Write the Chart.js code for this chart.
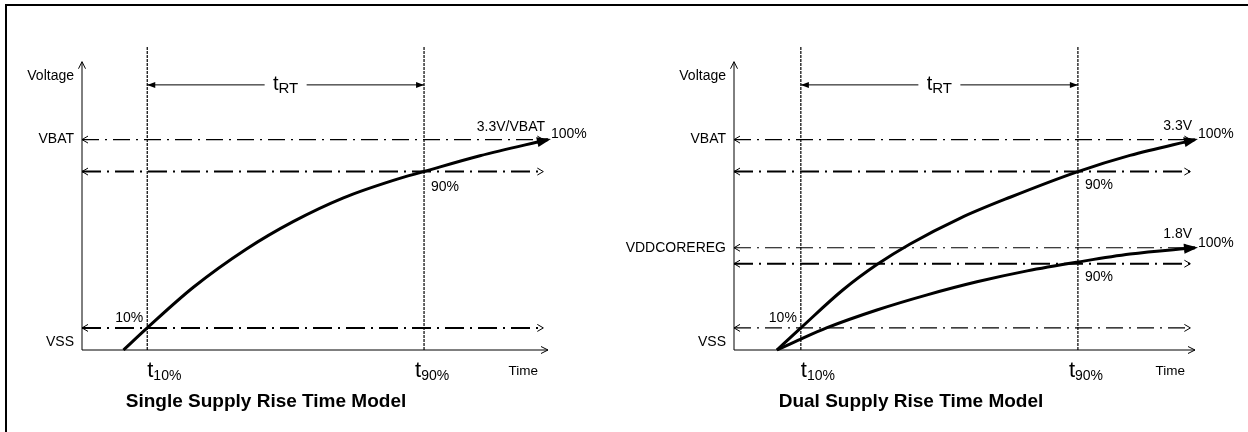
<!DOCTYPE html>
<html>
<head>
<meta charset="utf-8">
<script src="https://cdn.jsdelivr.net/npm/chart.js@4/dist/chart.umd.min.js"></script>
<style>
  body { margin: 0; background: #fff; }
  #wrap { position: relative; width: 1248px; height: 432px; overflow: hidden; }
  canvas { position: absolute; top: 0; }
  #single { left: 0; }
  #dual { left: 590px; }
  #frame { position: absolute; left: 5px; top: 4px; right: -4px; bottom: -4px;
           border-top: 2px solid #000; border-left: 2px solid #000; pointer-events: none; }
</style>
</head>
<body>
<div id="wrap">
  <canvas id="single" width="590" height="432"></canvas>
  <canvas id="dual" width="658" height="432"></canvas>
  <div id="frame"></div>
</div>
<script>
// ---- data (time in arbitrary units 0..100, level in arbitrary units, VBAT = 100) ----
const singleMarks = [14.0, 73.4];                 // t10%, t90%
const singleLevels = [100, 84.8, 10.5];           // VBAT, 90%, 10%
const singleAxisNames = ['Voltage', 'VBAT', 'VSS'];
const singleAxisY = [130, 100, 3.8];
const singleT = [8.9, 14.0, 23.9, 35.3, 45.3, 56.1, 66.8, 73.4, 85.4, 100];
const singleV = [0, 10.5, 29.8, 48.0, 61.0, 72.3, 80.6, 84.8, 92.3, 100];

const dualMarks = [14.5, 74.6];
const dualLevels = [100, 84.8, 48.6, 41.0, 10.5]; // VBAT, 90%, VDDCOREREG, 90%, VSS
const dualAxisNames = ['Voltage', 'VBAT', 'VDDCOREREG', 'VSS'];
const dualAxisY = [130, 100, 48.6, 3.8];
const dualHiT = [9.3, 14.5, 23.6, 31.0, 38.2, 49.0, 59.9, 74.6, 85.9, 100];
const dualHiV = [0, 10.5, 28.5, 40.6, 50.4, 62.6, 72.6, 84.8, 92.5, 100];
const dualLoT = [9.3, 14.5, 20.2, 31.0, 41.9, 52.7, 63.6, 74.6, 85.9, 100];
const dualLoV = [0, 5.2, 10.6, 19.0, 26.2, 32.4, 37.6, 41.8, 45.6, 48.6];

const FONT = '"Liberation Sans", Arial, sans-serif';
const thin = 1.2, thick = 2;

function pts(xs, ys) { return xs.map((x, i) => ({ x, y: ys[i] })); }

function head(ctx, x, y, ux, uy, len, half, filled) {
  const nx = -uy, ny = ux;
  const bx = x - ux * len, by = y - uy * len;
  ctx.beginPath();
  ctx.moveTo(bx + nx * half, by + ny * half);
  ctx.lineTo(x, y);
  ctx.lineTo(bx - nx * half, by - ny * half);
  if (filled) { ctx.closePath(); ctx.fill(); } else ctx.stroke();
}

function text(ctx, s, x, y, size, align, bold) {
  ctx.font = (bold ? 'bold ' : '') + size + 'px ' + FONT;
  ctx.textAlign = align;
  ctx.textBaseline = 'middle';
  ctx.fillText(s, x, y);
}

// base letter with a subscript
function subText(ctx, base, sub, x, y, bs, ss, drop) {
  ctx.textBaseline = 'middle';
  ctx.textAlign = 'left';
  ctx.font = bs + 'px ' + FONT;
  const w = ctx.measureText(base).width;
  ctx.fillText(base, x, y);
  ctx.font = ss + 'px ' + FONT;
  ctx.fillText(sub, x + w, y + drop);
}

function subWidth(ctx, base, sub, bs, ss) {
  ctx.font = bs + 'px ' + FONT;
  const w = ctx.measureText(base).width;
  ctx.font = ss + 'px ' + FONT;
  return w + ctx.measureText(sub).width;
}

const diagram = {
  id: 'diagram',
  afterDatasetsDraw(chart) {
    const o = chart.options.plugins.diagram;
    const ctx = chart.ctx;
    const X = v => chart.scales.x.getPixelForValue(v);
    const Y = v => chart.scales.y.getPixelForValue(v);
    ctx.save();
    ctx.strokeStyle = '#000';
    ctx.fillStyle = '#000';
    ctx.setLineDash([]);
    ctx.lineWidth = 1;

    // axes
    ctx.beginPath();
    ctx.moveTo(X(0), Y(0)); ctx.lineTo(X(0), Y(o.axisTop));
    ctx.moveTo(X(0), Y(0)); ctx.lineTo(X(100), Y(0));
    ctx.stroke();
    head(ctx, X(0), Y(o.axisTop), 0, -1, 7, 3.5, false);
    head(ctx, X(100), Y(0), 1, 0, 7, 3.5, false);

    // open heads on the level lines
    o.levels.forEach(v => {
      head(ctx, X(0), Y(v), -1, 0, 6, 3.5, false);
      head(ctx, X(99), Y(v), 1, 0, 6, 3.5, false);
    });

    // filled heads at the end of each curve
    chart.data.datasets.forEach((ds, i) => {
      if (!ds.curve) return;
      const d = chart.getDatasetMeta(i).data;
      const a = d[d.length - 2], b = d[d.length - 1];
      const dx = b.x - a.x, dy = b.y - a.y, L = Math.hypot(dx, dy);
      head(ctx, b.x + dx / L * 3, b.y + dy / L * 3, dx / L, dy / L, 14, 5, true);
    });

    // t_RT dimension
    const m0 = X(o.marks[0]), m1 = X(o.marks[1]), ry = Y(o.trtY);
    const cx = (m0 + m1) / 2;
    ctx.beginPath();
    ctx.moveTo(m0, ry); ctx.lineTo(cx - 21, ry);
    ctx.moveTo(cx + 21, ry); ctx.lineTo(m1, ry);
    ctx.stroke();
    head(ctx, m0, ry, -1, 0, 8, 3, true);
    head(ctx, m1, ry, 1, 0, 8, 3, true);
    const rw = subWidth(ctx, 't', 'RT', 20, 15);
    subText(ctx, 't', 'RT', cx - rw / 2, ry, 20, 15, 4);

    // axis names
    o.axisNames.forEach((s, i) => text(ctx, s, X(0) - 8, Y(o.axisY[i]), 14, 'right'));

    // percentages
    text(ctx, '10%', m0 - 4, Y(15), 14, 'right');
    o.p90.forEach(v => text(ctx, '90%', m1 + 7, Y(v), 14, 'left'));
    o.p100.forEach(v => text(ctx, '100%', X(100) + 3, Y(v), 14, 'left'));
    o.supply.forEach(([s, v]) => text(ctx, s, X(100) - 3, Y(v), 14, 'right'));

    // time axis labels
    text(ctx, 'Time', X(100) - 10, Y(0) + 21, 13.5, 'right');
    subText(ctx, 't', '10%', m0, Y(0) + 21, 22, 14, 5);
    subText(ctx, 't', '90%', m1 - 9, Y(0) + 21, 22, 14, 5);

    // panel title
    text(ctx, o.title, o.titleX, 402, 19, 'center', true);
    ctx.restore();
  }
};

function levelSet(v, w) {
  return {
    data: [{ x: 0, y: v }, { x: 99, y: v }],
    borderColor: '#000', borderWidth: w,
    borderDash: w > 1.5 ? [19, 6, 2, 6] : [17, 6, 2, 6],
    pointRadius: 0, clip: false
  };
}
function markSet(t) {
  return {
    data: [{ x: t, y: 0 }, { x: t, y: 144 }],
    borderColor: '#000', borderWidth: 1.2, borderDash: [3, 1],
    pointRadius: 0, clip: false
  };
}
function curveSet(xs, ys) {
  return {
    curve: true, data: pts(xs, ys),
    borderColor: '#000', borderWidth: 3, pointRadius: 0,
    cubicInterpolationMode: 'monotone', clip: false
  };
}

function build(id, curves, levels, widths, marks, padL, padR, extra) {
  new Chart(document.getElementById(id), {
    type: 'line',
    data: {
      datasets: [
        ...curves,
        ...levels.map((v, i) => levelSet(v, widths[i])),
        ...marks.map(markSet)
      ]
    },
    options: {
      responsive: false, animation: false, events: [],
      layout: { padding: { left: padL, right: padR, top: 47, bottom: 82 } },
      scales: {
        x: { type: 'linear', min: 0, max: 100, display: false },
        y: { type: 'linear', min: 0, max: 144, display: false }
      },
      plugins: {
        legend: { display: false },
        tooltip: { enabled: false },
        diagram: Object.assign({ levels, marks, axisTop: 137, trtY: 126 }, extra)
      }
    },
    plugins: [diagram]
  });
}

build('single',
  [curveSet(singleT, singleV)],
  singleLevels, [thin, thick, thick], singleMarks, 82, 42,
  { axisNames: singleAxisNames, axisY: singleAxisY, p90: [77.6], p100: [102.4],
    supply: [['3.3V/VBAT', 106]], title: 'Single Supply Rise Time Model', titleX: 266 });

build('dual',
  [curveSet(dualHiT, dualHiV), curveSet(dualLoT, dualLoV)],
  dualLevels, [thin, thick, thin, thick, thin], dualMarks, 144, 53,
  { axisNames: dualAxisNames, axisY: dualAxisY, p90: [78.5, 34.8], p100: [102.4, 51],
    supply: [['3.3V', 106.5], ['1.8V', 55]], title: 'Dual Supply Rise Time Model', titleX: 321 });
</script>
</body>
</html>
